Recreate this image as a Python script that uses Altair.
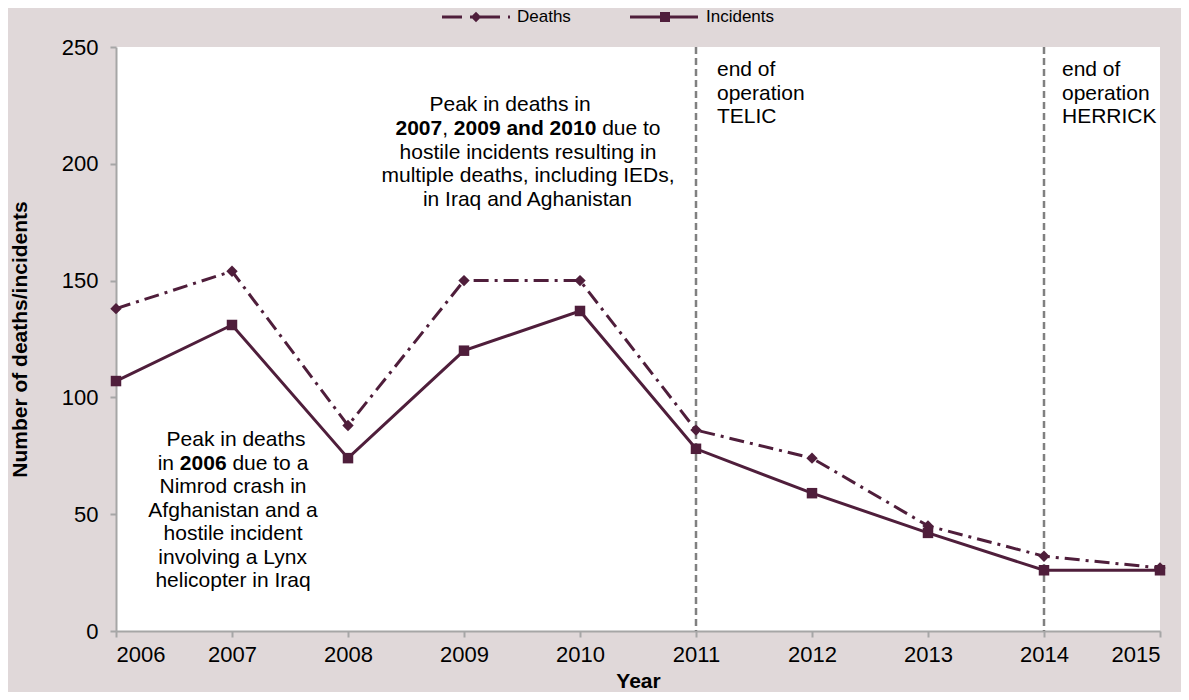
import altair as alt
import pandas as pd

# ---------------- data ----------------
years = [2006, 2007, 2008, 2009, 2010, 2011, 2012, 2013, 2014, 2015]
deaths = [138, 154, 88, 150, 150, 86, 74, 45, 32, 27]
incidents = [107, 131, 74, 120, 137, 78, 59, 42, 26, 26]
series = ["Deaths", "Incidents"]
operation_end_years = [2011, 2014]
operation_labels = [["end of", "operation", "TELIC"], ["end of", "operation", "HERRICK"]]
y_ticks = [0, 50, 100, 150, 200, 250]

top_note = [
    [("Peak in deaths in", False)],
    [("2007", True), (", ", False), ("2009 and 2010", True), (" due to", False)],
    [("hostile incidents resulting in", False)],
    [("multiple deaths, including IEDs,", False)],
    [("in Iraq and Aghanistan", False)],
]
top_centres = [510, 528, 528, 528, 528]
bottom_note = [
    [("Peak in deaths", False)],
    [("in ", False), ("2006", True), (" due to a", False)],
    [("Nimrod crash in", False)],
    [("Afghanistan and a", False)],
    [("hostile incident", False)],
    [("involving a Lynx", False)],
    [("helicopter in Iraq", False)],
]
bottom_centres = [236, 233, 233, 233, 233, 233, 233]

# ---------------- style ----------------
FONT = "Liberation Sans"
LINE_C = "#4f1e3b"
BG = "#e0d8d9"
AXIS_C = "#a6a6a6"
W, H = 1044, 584
OX, OY = 116, 47          # plot origin on the page
NOTE_FS = 21

REG = {' ': 278, ',': 278, '.': 278, 'a': 556, 'b': 556, 'c': 500, 'd': 556, 'e': 556, 'f': 278,
       'g': 556, 'h': 556, 'i': 222, 'j': 222, 'k': 500, 'l': 222, 'm': 833, 'n': 556, 'o': 556,
       'p': 556, 'q': 556, 'r': 333, 's': 500, 't': 278, 'u': 556, 'v': 500, 'w': 722, 'x': 500,
       'y': 500, 'z': 500, 'A': 667, 'D': 722, 'E': 667, 'I': 278, 'L': 556, 'N': 722, 'P': 667,
       'C': 722, 'H': 722, 'K': 667, 'R': 722, 'T': 611}
BOLD = {' ': 278, ',': 278, 'a': 556, 'n': 611, 'd': 611}


def tw(s, bold, fs):
    tab = BOLD if bold else REG
    return sum(tab.get(ch, 556) for ch in s) * fs / 1000.0


def layout(lines, centres, y0, dy, fs, rows_reg, rows_bold):
    for i, segs in enumerate(lines):
        total = sum(tw(t, b, fs) for t, b in segs)
        x = centres[i] - total / 2
        y = y0 + i * dy
        for t, b in segs:
            lead = len(t) - len(t.lstrip(' '))
            txt = t.strip(' ')
            if txt:
                row = {"px": x + tw(' ' * lead, b, fs) - OX, "py": y - OY, "text": txt}
                (rows_bold if b else rows_reg).append(row)
            x += tw(t, b, fs)


rows_reg, rows_bold = [], []
layout(top_note, top_centres, 105, 23.8, NOTE_FS, rows_reg, rows_bold)
layout(bottom_note, bottom_centres, 440, 23.5, NOTE_FS, rows_reg, rows_bold)
for lx, lab in zip([717, 1062], operation_labels):
    for i, t in enumerate(lab):
        rows_reg.append({"px": lx - OX, "py": 70 + i * 23.5 - OY, "text": t})

reg_df = pd.DataFrame(rows_reg)
bold_df = pd.DataFrame(rows_bold)

df = pd.DataFrame({
    "year": years * 2,
    "value": deaths + incidents,
    "series": [series[0]] * len(years) + [series[1]] * len(years),
})
d_df = df[df.series == "Deaths"]
i_df = df[df.series == "Incidents"]

x_enc = alt.X("year:Q",
              scale=alt.Scale(domain=[2006, 2015], nice=False, zero=False),
              axis=alt.Axis(values=years, format="d", title="Year",
                            labelFontSize=22, labelFont=FONT, labelColor="black",
                            labelPadding=7, tickSize=6, tickColor=AXIS_C, tickWidth=2,
                            domainColor=AXIS_C, domainWidth=2, grid=False,
                            titleFont=FONT, titleFontSize=21, titleFontWeight="bold",
                            titleColor="black", titleY=50, titleBaseline="middle"))
y_enc = alt.Y("value:Q",
              scale=alt.Scale(domain=[0, 250], nice=False),
              axis=alt.Axis(values=y_ticks, title="Number of deaths/incidents",
                            labelFontSize=22, labelFont=FONT, labelColor="black",
                            labelPadding=12, tickSize=6, tickColor=AXIS_C, tickWidth=2,
                            domainColor=AXIS_C, domainWidth=2, grid=False,
                            titleFont=FONT, titleFontSize=21, titleFontWeight="bold",
                            titleColor="black", titleX=20 - OX, titleY=H / 2,
                            titleAngle=270, titleAlign="center", titleBaseline="middle"))

vlines = alt.Chart(pd.DataFrame({"year": operation_end_years})).mark_rule(
    color="#808080", strokeWidth=2.5, strokeDash=[7, 4]
).encode(x=alt.X("year:Q"))

d_line = alt.Chart(d_df).mark_line(color=LINE_C, strokeWidth=3, strokeDash=[15, 6, 3, 6]).encode(x=x_enc, y=y_enc)
d_pts = alt.Chart(d_df).mark_point(shape="diamond", filled=True, size=130, color=LINE_C, opacity=1).encode(x="year:Q", y="value:Q")
i_line = alt.Chart(i_df).mark_line(color=LINE_C, strokeWidth=3).encode(x="year:Q", y="value:Q")
i_pts = alt.Chart(i_df).mark_point(shape="square", filled=True, size=110, color=LINE_C, opacity=1).encode(x="year:Q", y="value:Q")

txt_reg = alt.Chart(reg_df).mark_text(align="left", baseline="middle", font=FONT, fontSize=NOTE_FS, color="black").encode(
    x=alt.X("px:Q", scale=None, axis=None), y=alt.Y("py:Q", scale=None, axis=None), text="text:N")
txt_bold = alt.Chart(bold_df).mark_text(align="left", baseline="middle", font=FONT, fontSize=NOTE_FS, fontWeight="bold", color="black").encode(
    x=alt.X("px:Q", scale=None, axis=None), y=alt.Y("py:Q", scale=None, axis=None), text="text:N")

# legend (drawn manually above the plot)
LY = 17 - OY
leg_d = pd.DataFrame({"x1": [442 - OX], "x2": [510 - OX], "mx": [476 - OX], "tx": [517 - OX], "y": [LY], "label": [series[0]]})
leg_i = pd.DataFrame({"x1": [630 - OX], "x2": [698 - OX], "mx": [665 - OX], "tx": [706 - OX], "y": [LY], "label": [series[1]]})
px_x = lambda f: alt.X(f, scale=None, axis=None)
px_y = alt.Y("y:Q", scale=None, axis=None)
leg_layers = [
    alt.Chart(leg_d).mark_rule(color=LINE_C, strokeWidth=3, strokeDash=[20, 8, 2, 8]).encode(x=px_x("x1:Q"), x2="x2:Q", y=px_y),
    alt.Chart(leg_d).mark_point(shape="diamond", filled=True, size=110, color=LINE_C, opacity=1).encode(x=px_x("mx:Q"), y=px_y),
    alt.Chart(leg_d).mark_text(align="left", baseline="middle", font=FONT, fontSize=17, color="black").encode(x=px_x("tx:Q"), y=px_y, text="label:N"),
    alt.Chart(leg_i).mark_rule(color=LINE_C, strokeWidth=3).encode(x=px_x("x1:Q"), x2="x2:Q", y=px_y),
    alt.Chart(leg_i).mark_point(shape="square", filled=True, size=100, color=LINE_C, opacity=1).encode(x=px_x("mx:Q"), y=px_y),
    alt.Chart(leg_i).mark_text(align="left", baseline="middle", font=FONT, fontSize=17, color="black").encode(x=px_x("tx:Q"), y=px_y, text="label:N"),
]

chart = alt.layer(d_line, vlines, d_pts, i_line, i_pts, txt_reg, txt_bold, *leg_layers).properties(
    width=W, height=H,
    autosize=alt.AutoSizeParams(type="none"),
    padding={"left": 108, "top": 39, "right": 21, "bottom": 61},
    background=BG,
).configure_view(fill="white", stroke=None)

chart.save("out.html", embed_options={"renderer": "svg", "actions": False})
